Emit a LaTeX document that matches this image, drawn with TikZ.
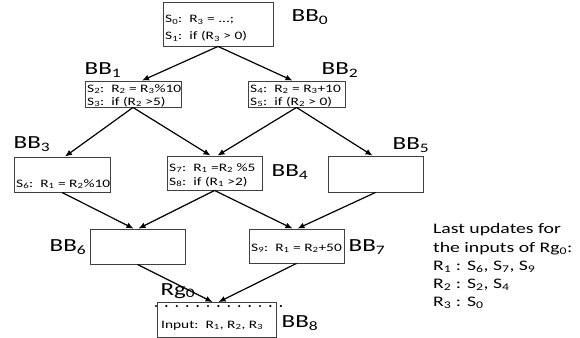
\documentclass[tikz,border=0pt]{standalone}
\usepackage{fontspec}
\setmainfont[FakeStretch=1.35]{Carlito}
\usetikzlibrary{arrows.meta}
\newcommand\ssub[1]{\textsubscript{#1}}
\begin{document}
\begin{tikzpicture}[x=1pt,y=-1pt,
  blk/.style={draw=black!75, line width=0.9pt, inner sep=0pt},
  arr/.style={-{Latex[length=7pt,width=6pt]}, line width=1.2pt},
  stmt/.style={anchor=base west, inner sep=0pt, font=\fontsize{11.4}{13}\selectfont},
  lbl/.style={inner sep=0pt, font=\fontsize{18.5}{20}\selectfont},
  note/.style={anchor=west, inner sep=0pt, font=\fontsize{14.6}{16}\selectfont}]
\useasboundingbox (0,0) rectangle (580,337);
% boxes
\node[blk, minimum width=110pt, minimum height=44pt] (bb0) at (218,24) {};
\node[blk, minimum width=96pt, minimum height=26pt] (bb1) at (133,94) {};
\node[blk, minimum width=97pt, minimum height=26pt] (bb2) at (296.5,94) {};
\node[blk, minimum width=96pt, minimum height=35pt] (bb3) at (62,174.5) {};
\node[blk, minimum width=95pt, minimum height=34pt] (bb4) at (214.5,173) {};
\node[blk, minimum width=95pt, minimum height=36pt] (bb5) at (375.5,174) {};
\node[blk, minimum width=95pt, minimum height=35pt] (bb6) at (137.5,246.5) {};
\node[blk, minimum width=95pt, minimum height=34pt] (bb7) at (296.5,246) {};
\node[blk, minimum width=119pt, minimum height=35pt] (bb8) at (216.5,320) {};
% statements
\node[stmt] (s0) at (165,23) {S\ssub{0}:\ \ R\ssub{3} = ...;};
\node[stmt] (s1) at (165,40) {S\ssub{1}:\ \ if (R\ssub{3} > 0)};
\node[stmt] (s2) at (87,92) {S\ssub{2}:\ \ R\ssub{2} = R\ssub{3}\%10};
\node[stmt] (s3) at (87,105) {S\ssub{3}:\ \ if (R\ssub{2} >5)};
\node[stmt] (s4) at (250,92) {S\ssub{4}:\ \ R\ssub{2} = R\ssub{3}+10};
\node[stmt] (s5) at (250,105) {S\ssub{5}:\ \ if (R\ssub{2} > 0)};
\node[stmt] (s6) at (16,187) {S\ssub{6}:\ \ R\ssub{1} = R\ssub{2}\%10};
\node[stmt] (s7) at (169,171) {S\ssub{7}:\ \ R\ssub{1} =R\ssub{2} \%5};
\node[stmt] (s8) at (169,185) {S\ssub{8}:\ \ if (R\ssub{1} >2)};
\node[stmt] (s9) at (251,251) {S\ssub{9}:\ \ R\ssub{1} = R\ssub{2}+50};
\node[stmt] (inp) at (161,328) {Input:\ \ R\ssub{1}, R\ssub{2}, R\ssub{3}};
% labels
\node[lbl] (l0) at (310,17) {BB\ssub{0}};
\node[lbl] (l1) at (103,70) {BB\ssub{1}};
\node[lbl] (l2) at (340,70) {BB\ssub{2}};
\node[lbl] (l3) at (32,144) {BB\ssub{3}};
\node[lbl] (l4) at (290,172) {BB\ssub{4}};
\node[lbl] (l5) at (411,145) {BB\ssub{5}};
\node[lbl] (l6) at (68,247) {BB\ssub{6}};
\node[lbl] (l7) at (367,247) {BB\ssub{7}};
\node[lbl] (l8) at (300,323) {BB\ssub{8}};
\node[lbl] (rg) at (178,291) {Rg\ssub{0}};
% note
\node[note] (n1) at (433,230) {Last updates for};
\node[note] (n2) at (433,249) {the inputs of Rg\ssub{0}:};
\node[note] (n3) at (433,267) {R\ssub{1} : S\ssub{6}, S\ssub{7}, S\ssub{9}};
\node[note] (n4) at (433,285) {R\ssub{2} : S\ssub{2}, S\ssub{4}};
\node[note] (n5) at (433,303) {R\ssub{3} : S\ssub{0}};
% dotted region boundary
\foreach \i in {0,...,12} \fill (156+10.4*\i,306) circle (1.2pt);
% arrows
\draw[arr] (bb0.south) -- ([xshift=9pt]bb1.north);
\draw[arr] (bb0.south) -- ([xshift=-4pt]bb2.north);
\draw[arr] (bb1.south) -- ([xshift=3pt]bb3.north);
\draw[arr] (bb1.south) -- ([xshift=-4pt]bb4.north);
\draw[arr] (bb2.south) -- ([xshift=3pt]bb4.north);
\draw[arr] (bb2.south) -- ([xshift=-3pt]bb5.north);
\draw[arr] (bb3.south) -- ([xshift=-4pt]bb6.north);
\draw[arr] (bb4.south) -- ([xshift=1pt]bb6.north);
\draw[arr] (bb4.south) -- ([xshift=-4pt]bb7.north);
\draw[arr] (bb5.south) -- ([xshift=1pt]bb7.north);
\draw[arr] (bb6.south) -- ([xshift=-4pt]bb8.north);
\draw[arr] (bb7.south) -- ([xshift=2pt]bb8.north);
\end{tikzpicture}
\end{document}
